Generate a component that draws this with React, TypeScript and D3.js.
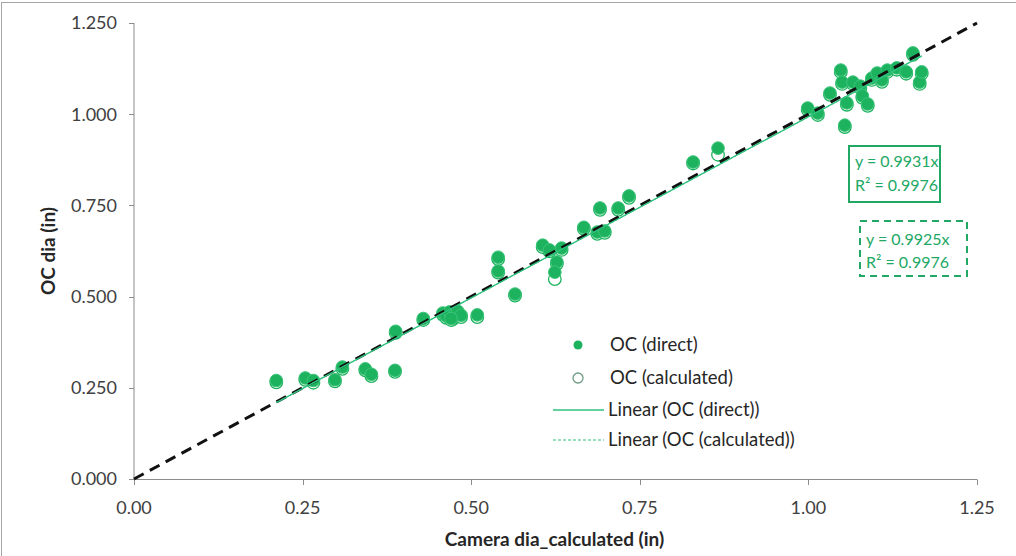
import React from "react";
import * as d3 from "d3";

// Camera-measured diameter (x) against OC diameter, direct and calculated
const cameraDia = [
  0.211, 0.254, 0.266, 0.298, 0.309, 0.343, 0.352, 0.387, 0.388, 0.429,
  0.458, 0.463, 0.468, 0.472, 0.476, 0.48, 0.485, 0.47, 0.509, 0.565,
  0.54, 0.54, 0.606, 0.616, 0.634, 0.627, 0.624, 0.667, 0.687, 0.691,
  0.698, 0.718, 0.734, 0.829, 0.866, 0.999, 1.014, 1.032, 1.048, 1.05,
  1.054, 1.057, 1.066, 1.077, 1.08, 1.088, 1.094, 1.102, 1.109, 1.117,
  1.131, 1.145, 1.155, 1.165, 1.168,
];
const ocDirect = [
  0.27, 0.277, 0.27, 0.272, 0.307, 0.302, 0.287, 0.298, 0.405, 0.44,
  0.455, 0.447, 0.458, 0.442, 0.452, 0.46, 0.449, 0.44, 0.45, 0.507,
  0.608, 0.57, 0.641, 0.628, 0.633, 0.595, 0.567, 0.69, 0.677, 0.743,
  0.68, 0.743, 0.776, 0.869, 0.907, 1.017, 1.003, 1.058, 1.121, 1.088,
  0.97, 1.031, 1.088, 1.077, 1.05, 1.028, 1.099, 1.113, 1.094, 1.121,
  1.127, 1.116, 1.168, 1.088, 1.116,
];
const ocCalculated = [
  0.265, 0.272, 0.264, 0.268, 0.302, 0.298, 0.282, 0.294, 0.401, 0.436,
  0.45, 0.442, 0.453, 0.437, 0.447, 0.456, 0.444, 0.436, 0.444, 0.503,
  0.603, 0.566, 0.636, 0.624, 0.628, 0.59, 0.548, 0.686, 0.672, 0.738,
  0.675, 0.738, 0.771, 0.865, 0.889, 1.012, 0.998, 1.053, 1.116, 1.083,
  0.965, 1.026, 1.083, 1.072, 1.045, 1.023, 1.094, 1.108, 1.089, 1.116,
  1.122, 1.111, 1.163, 1.083, 1.111,
];

const xTicks = [0, 0.25, 0.5, 0.75, 1.0, 1.25];
const yTicks = [0, 0.25, 0.5, 0.75, 1.0, 1.25];

const slopeDirect = 0.9931;
const slopeCalculated = 0.9925;
const r2Direct = 0.9976;
const r2Calculated = 0.9976;

const legendItems = [
  "OC (direct)",
  "OC (calculated)",
  "Linear (OC (direct))",
  "Linear (OC (calculated))",
];

const GREEN = "#1DB35E";
const TEXT_GREEN = "#22A865";
const FONT = "Lato, 'Open Sans', sans-serif";

export default function App() {
  const W = 1016;
  const H = 556;
  const x = d3.scaleLinear().domain([0, 1.25]).range([134, 977]);
  const y = d3.scaleLinear().domain([0, 1.25]).range([479, 23]);

  const xMin = d3.min(cameraDia) as number;
  const xMax = d3.max(cameraDia) as number;
  const line = d3
    .line<[number, number]>()
    .x((d) => x(d[0]))
    .y((d) => y(d[1]));

  const identity = line([
    [0, 0],
    [1.25, 1.25],
  ]);
  const fitDirect = line([
    [xMin, xMin * slopeDirect],
    [xMax, xMax * slopeDirect],
  ]);
  const fitCalc = line([
    [xMin, xMin * slopeCalculated],
    [xMax, xMax * slopeCalculated],
  ]);

  const axisColor = "#8c8c8c";
  const tickText = "#404040";

  return (
    <svg
      width={W}
      height={H}
      style={{ position: "absolute", left: 0, top: 0, background: "#fff" }}
    >
      <rect x={1.5} y={2.5} width={W + 10} height={H + 10} fill="none" stroke="#a6a6a6" />

      {/* axes */}
      <line x1={134} x2={134} y1={y(1.25)} y2={y(0)} stroke={axisColor} />
      <line x1={134} x2={x(1.25)} y1={479.5} y2={479.5} stroke={axisColor} />
      {yTicks.map((t) => (
        <g key={"y" + t}>
          <line x1={129} x2={134} y1={Math.round(y(t)) + 0.5} y2={Math.round(y(t)) + 0.5} stroke={axisColor} />
          <text
            x={117}
            y={y(t)}
            dy="0.35em"
            textAnchor="end"
            fontFamily={FONT}
            fontSize={18}
            fill={tickText}
          >
            {d3.format(".3f")(t)}
          </text>
        </g>
      ))}
      {xTicks.map((t) => (
        <g key={"x" + t}>
          <line x1={Math.round(x(t)) + 0.5} x2={Math.round(x(t)) + 0.5} y1={479.5} y2={485} stroke={axisColor} />
          <text
            x={x(t)}
            y={508}
            dy="0.35em"
            textAnchor="middle"
            fontFamily={FONT}
            fontSize={18}
            fill={tickText}
          >
            {d3.format(".2f")(t)}
          </text>
        </g>
      ))}

      <text
        transform={`translate(48,${y(0.625)}) rotate(-90)`}
        textAnchor="middle"
        dy="0.35em"
        fontFamily={FONT}
        fontWeight="bold"
        fontSize={19}
        fill="#262626"
      >
        OC dia (in)
      </text>
      <text
        x={x(0.625) - 1}
        y={539}
        dy="0.35em"
        textAnchor="middle"
        fontFamily={FONT}
        fontWeight="bold"
        fontSize={19}
        fill="#262626"
      >
        Camera dia_calculated (in)
      </text>

      {/* calculated markers (hollow) */}
      {cameraDia.map((cx, i) => (
        <circle
          key={"c" + i}
          cx={x(cx)}
          cy={y(ocCalculated[i])}
          r={6.3}
          fill="#fff"
          stroke={GREEN}
          strokeWidth={1.3}
        />
      ))}
      {/* direct markers (filled) */}
      {cameraDia.map((cx, i) => (
        <circle
          key={"d" + i}
          cx={x(cx)}
          cy={y(ocDirect[i])}
          r={6.3}
          fill={GREEN}
          stroke="#3cc47a"
          strokeWidth={1}
        />
      ))}

      {/* 1:1 reference line */}
      <path d={identity || ""} stroke="#111" strokeWidth={3} strokeDasharray="11 7" fill="none" />
      {/* trendlines */}
      <path d={fitDirect || ""} stroke="#2ec27e" strokeWidth={1.3} fill="none" />
      <path d={fitCalc || ""} stroke="#2ec27e" strokeWidth={1} strokeDasharray="3 2" fill="none" />

      {/* trendline equations */}
      <rect x={849} y={146} width={91} height={56} fill="#fff" stroke={TEXT_GREEN} strokeWidth={2} />
      <text x={855} y={167} fontFamily={FONT} fontSize={16} fill={TEXT_GREEN}>
        {`y = ${slopeDirect}x`}
      </text>
      <text x={855} y={191} fontFamily={FONT} fontSize={16} fill={TEXT_GREEN}>
        {`R² = ${r2Direct}`}
      </text>
      <rect
        x={860}
        y={221}
        width={107}
        height={55}
        fill="#fff"
        stroke={TEXT_GREEN}
        strokeWidth={2}
        strokeDasharray="7 5"
      />
      <text x={866} y={245} fontFamily={FONT} fontSize={16} fill={TEXT_GREEN}>
        {`y = ${slopeCalculated}x`}
      </text>
      <text x={866} y={268} fontFamily={FONT} fontSize={16} fill={TEXT_GREEN}>
        {`R² = ${r2Calculated}`}
      </text>

      {/* legend */}
      <g fontFamily={FONT} fontSize={18.5} fill="#262626">
        <circle cx={578} cy={345} r={4.5} fill={GREEN} />
        <text x={610} y={345} dy="0.35em">{legendItems[0]}</text>
        <circle cx={578} cy={378} r={5} fill="#fff" stroke="#6f9c84" strokeWidth={1.3} />
        <text x={610} y={378} dy="0.35em">{legendItems[1]}</text>
        <line x1={553} x2={604} y1={410} y2={410} stroke="#2ec27e" strokeWidth={1.3} />
        <text x={608} y={410} dy="0.35em">{legendItems[2]}</text>
        <line x1={553} x2={604} y1={440} y2={440} stroke="#2ec27e" strokeWidth={1} strokeDasharray="3 2" />
        <text x={608} y={440} dy="0.35em">{legendItems[3]}</text>
      </g>
    </svg>
  );
}
